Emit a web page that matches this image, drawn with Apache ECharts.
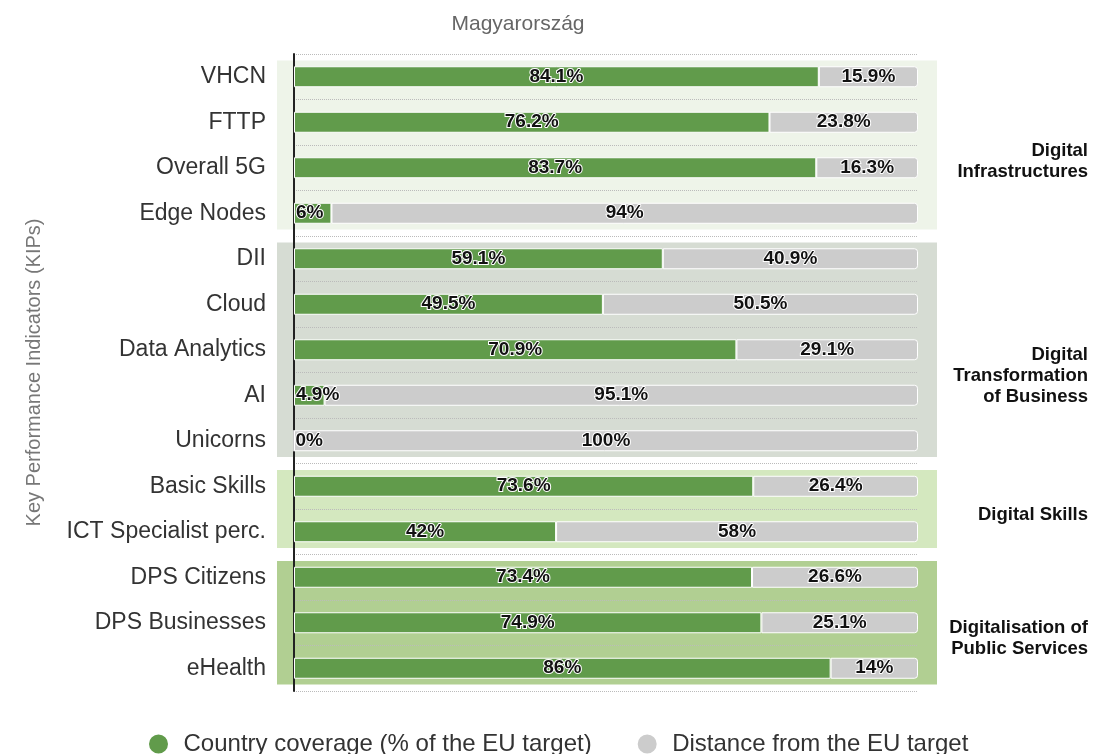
<!DOCTYPE html>
<html>
<head>
<meta charset="utf-8">
<script src="https://cdn.jsdelivr.net/npm/echarts@6/dist/echarts.min.js"></script>
<style>
html,body{margin:0;padding:0;background:#fff;}
#main{width:1094px;height:754px;}
</style>
</head>
<body>
<div id="main"></div>
<script>
var subtitle = 'Magyarország';
var categories = ['VHCN','FTTP','Overall 5G','Edge Nodes','DII','Cloud','Data Analytics','AI','Unicorns','Basic Skills','ICT Specialist perc.','DPS Citizens','DPS Businesses','eHealth'];
var coverage = [84.1, 76.2, 83.7, 6, 59.1, 49.5, 70.9, 4.9, 0, 73.6, 42, 73.4, 74.9, 86];
var distance = [15.9, 23.8, 16.3, 94, 40.9, 50.5, 29.1, 95.1, 100, 26.4, 58, 26.6, 25.1, 14];
var groupNames = ['Digital\nInfrastructures', 'Digital\nTransformation\nof Business', 'Digital Skills', 'Digitalisation of\nPublic Services'];
var groupSizes = [4, 5, 2, 3];
var groupColors = ['#eef4e9', '#d6dcd3', '#d4e8bf', '#b1cf92'];
var seriesNames = ['Country coverage (% of the EU target)', 'Distance from the EU target'];
var axisName = 'Key Performance Indicators (KIPs)';

var groupData = [];
var s = 0;
for (var i = 0; i < groupSizes.length; i++) {
  groupData.push([s, s + groupSizes[i] - 1, i]);
  s += groupSizes[i];
}

var labelBase = {
  show: true,
  formatter: '{c}%',
  color: '#111',
  fontWeight: 'bold',
  fontSize: 19,
  fontFamily: 'Liberation Sans',
  textBorderColor: '#fff',
  textBorderWidth: 2
};

var chart = echarts.init(document.getElementById('main'));
chart.setOption({
  animation: false,
  textStyle: {fontFamily: 'Liberation Sans'},
  title: {
    text: subtitle,
    left: 513,
    top: 9,
    textAlign: 'center',
    textStyle: {fontSize: 21, fontWeight: 'normal', color: '#666', fontFamily: 'Liberation Sans'}
  },
  legend: {
    data: seriesNames,
    left: 142,
    top: 727,
    icon: 'circle',
    itemWidth: 40,
    itemHeight: 21,
    itemGap: 44,
    textStyle: {fontSize: 24, color: '#333', fontFamily: 'Liberation Sans'}
  },
  grid: {left: 294, right: 176, top: 54, bottom: 63, containLabel: false},
  xAxis: {type: 'value', min: 0, max: 100, show: false},
  yAxis: {
    type: 'category',
    data: categories,
    inverse: true,
    name: axisName,
    nameLocation: 'middle',
    nameGap: 250,
    nameTextStyle: {fontSize: 20, color: '#777', fontFamily: 'Liberation Sans'},
    axisLine: {show: true, lineStyle: {color: '#222', width: 2}},
    axisTick: {show: false},
    axisLabel: {fontSize: 23, color: '#333', margin: 28, fontFamily: 'Liberation Sans'},
    splitLine: {show: true, lineStyle: {type: 'dotted', color: '#bbb', width: 1}}
  },
  series: [
    {
      type: 'custom',
      z: -1,
      silent: true,
      clip: false,
      data: groupData,
      encode: {x: -1, y: -1},
      renderItem: function (params, api) {
        var a = api.value(0), b = api.value(1), gi = api.value(2);
        var band = api.size([0, 1])[1];
        var inset = 6.5;
        var top = api.coord([0, a])[1] - band / 2 + inset;
        var bot = api.coord([0, b])[1] + band / 2 - inset;
        var x0 = api.coord([0, a])[0] - 17;
        var x1 = api.coord([100, a])[0] + 19;
        var mid = (api.coord([0, a])[1] + api.coord([0, b])[1]) / 2;
        return {
          type: 'group',
          children: [
            {type: 'rect', shape: {x: x0, y: top, width: x1 - x0, height: bot - top}, style: {fill: groupColors[gi]}},
            {type: 'text', style: {
              text: groupNames[gi], x: 1088, y: mid - 5, align: 'right', verticalAlign: 'top',
              fill: '#111', fontSize: 18.5, fontWeight: 'bold', lineHeight: 21, fontFamily: 'Liberation Sans'
            }}
          ]
        };
      }
    },
    {
      name: seriesNames[0],
      type: 'bar',
      stack: 'total',
      barWidth: 21,
      itemStyle: {color: '#619b4b', borderColor: '#fff', borderWidth: 1},
      label: Object.assign({position: 'inside'}, labelBase),
      data: coverage.map(function (v) {
        return v < 10 ? {value: v, label: {position: 'insideLeft', distance: 2}} : v;
      })
    },
    {
      name: seriesNames[1],
      type: 'bar',
      stack: 'total',
      barWidth: 21,
      itemStyle: {color: '#cccccc', borderColor: '#fff', borderWidth: 1, borderRadius: [0, 3, 3, 0]},
      label: Object.assign({position: 'inside'}, labelBase),
      data: distance
    }
  ]
});
</script>
</body>
</html>
